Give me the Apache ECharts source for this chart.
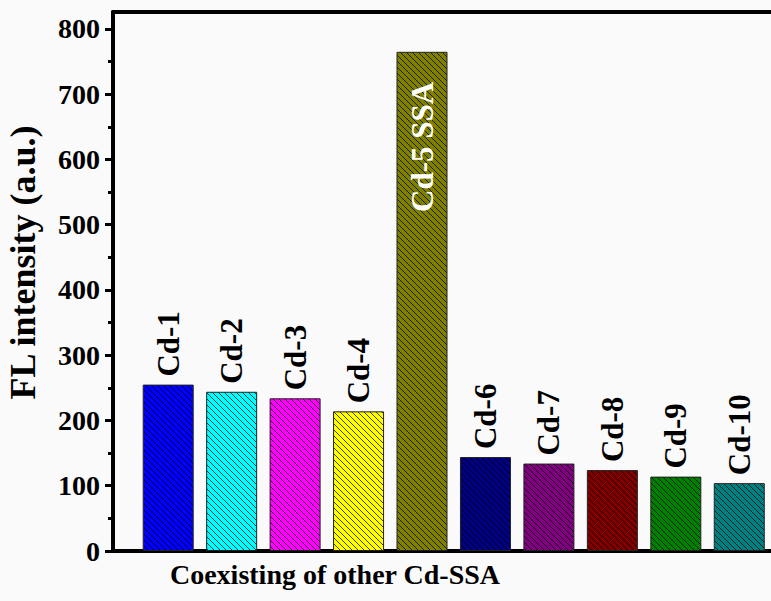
<!DOCTYPE html>
<html>
<head>
<meta charset="utf-8">
<script src="https://cdn.jsdelivr.net/npm/echarts@6/dist/echarts.min.js"></script>
<style>
  html, body { margin: 0; padding: 0; background: #fafafa; }
  #chart { width: 771px; height: 601px; }
</style>
</head>
<body>
<div id="chart"></div>
<script>
// 数据
var categories = ['Cd-1', 'Cd-2', 'Cd-3', 'Cd-4', 'Cd-5 SSA', 'Cd-6', 'Cd-7', 'Cd-8', 'Cd-9', 'Cd-10'];
var values = [255, 244, 234, 214, 765, 144, 134, 124, 114, 104];
var barColors = ['#0000ff', '#00ffff', '#ff00ff', '#ffff00', '#808000', '#000080', '#800080', '#800000', '#008000', '#008080'];
var yTicks = [0, 100, 200, 300, 400, 500, 600, 700, 800];
var yMinorTicks = [50, 150, 250, 350, 450, 550, 650, 750];
var highlightIndex = 4;

var font = '"Liberation Serif", "Times New Roman", serif';

// 斜线填充
function hatch(color) {
    var c = document.createElement('canvas');
    c.width = 12; c.height = 12;
    var ctx = c.getContext('2d');
    ctx.fillStyle = color;
    ctx.fillRect(0, 0, 12, 12);
    ctx.strokeStyle = 'rgba(0,0,0,0.75)';
    ctx.lineWidth = 1;
    for (var k = -2; k <= 2; k++) {
        ctx.beginPath();
        ctx.moveTo(k * 6, 0);
        ctx.lineTo(k * 6 + 12, 12);
        ctx.stroke();
    }
    return { image: c, repeat: 'repeat' };
}

var barData = values.map(function (v, i) {
    var item = {
        value: [i + 1, v],
        name: categories[i],
        itemStyle: { color: hatch(barColors[i]) }
    };
    if (i === highlightIndex) {
        item.label = {
            position: ['50%', 30],
            align: 'right',
            color: '#fff'
        };
    }
    return item;
});

var chart = echarts.init(document.getElementById('chart'), null, { renderer: 'svg' });

var option = {
    backgroundColor: '#fafafa',
    animation: false,
    grid: { left: 113, right: 0, top: 12, bottom: 50, containLabel: false, outerBoundsMode: 'none' },
    xAxis: [{
        type: 'value',
        min: 0.13,
        max: 10.5,
        axisLine: { show: true, onZero: false, lineStyle: { color: '#000', width: 4 } },
        axisTick: { show: false },
        axisLabel: { show: false },
        splitLine: { show: false },
        name: 'Coexisting of other Cd-SSA',
        nameLocation: 'middle',
        nameGap: 9,
        nameTextStyle: {
            fontFamily: font, fontWeight: 'bold', fontSize: 28, color: '#000',
            padding: [0, 214, 0, 0]
        }
    }, {
        type: 'value',
        position: 'top',
        min: 0.13,
        max: 10.5,
        axisLine: { show: true, onZero: false, lineStyle: { color: '#000', width: 4 } },
        axisTick: { show: false },
        axisLabel: { show: false },
        splitLine: { show: false }
    }],
    yAxis: [{
        type: 'value',
        min: 0,
        max: 826,
        axisLine: { show: true, lineStyle: { color: '#000', width: 4 } },
        axisTick: { show: true, customValues: yTicks, length: 8, lineStyle: { color: '#000', width: 3 } },
        axisLabel: {
            customValues: yTicks,
            margin: 13,
            fontFamily: font, fontWeight: 'bold', fontSize: 28, color: '#000'
        },
        splitLine: { show: false },
        name: 'FL intensity (a.u.)',
        nameLocation: 'middle',
        nameGap: 72,
        nameTextStyle: {
            fontFamily: font, fontWeight: 'bold', fontSize: 36, color: '#000',
            padding: [0, 0, 0, 38]
        }
    }, {
        type: 'value',
        min: 0,
        max: 826,
        position: 'left',
        axisLine: { show: false },
        axisTick: { show: true, customValues: yMinorTicks, length: 5, lineStyle: { color: '#000', width: 3 } },
        axisLabel: { show: false },
        splitLine: { show: false }
    }],
    series: [{
        type: 'bar',
        barWidth: 51,
        data: barData,
        itemStyle: { borderColor: '#222', borderWidth: 1 },
        label: {
            show: true,
            position: 'top',
            distance: 8,
            rotate: 90,
            align: 'left',
            verticalAlign: 'middle',
            fontFamily: font, fontWeight: 'bold', fontSize: 31, color: '#000',
            formatter: function (p) { return p.name; }
        }
    }]
};

chart.setOption(option);

window.onresize = function () {
    chart.resize();
};
</script>
</body>
</html>
